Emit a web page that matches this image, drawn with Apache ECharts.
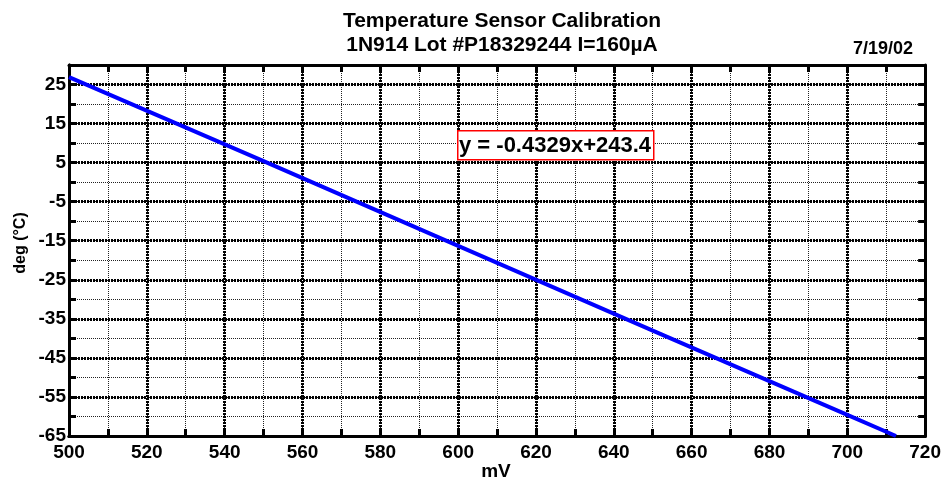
<!DOCTYPE html>
<html>
<head>
<meta charset="utf-8">
<style>
  html, body { margin: 0; padding: 0; background: #fff; }
  #chart { width: 944px; height: 483px; }
</style>
<script src="https://cdn.jsdelivr.net/npm/echarts@6/dist/echarts.min.js"></script>
</head>
<body>
<div id="chart"></div>
<script>
// ---- data ----
var mV = [500, 550, 600, 650, 700, 712.5];
var degC = [26.9, 5.4, -16.3, -38.0, -59.6, -65.0];
var xTickLabels = ['500', '520', '540', '560', '580', '600', '620', '640', '660', '680', '700', '720'];
var yTickLabels = ['-65', '-55', '-45', '-35', '-25', '-15', '-5', '5', '15', '25'];
var titleLines = ['Temperature Sensor Calibration', '1N914 Lot #P18329244 I=160\u00b5A'];
var dateText = '7/19/02';
var fitText = 'y = -0.4329x+243.4';
var xName = 'mV';
var yName = 'deg (\u00b0C)';

var FONT = 'Liberation Sans, Arial, sans-serif';
var points = mV.map(function (x, i) { return [x, degC[i]]; });

var chart = echarts.init(document.getElementById('chart'), null, { renderer: 'canvas' });

var majorLine = { show: true, lineStyle: { color: '#000', width: 3, type: [2, 1] } };
var minorLine = { show: true, lineStyle: { color: '#222', width: 1, type: [1, 1] } };
var frame = { show: true, onZero: false, lineStyle: { color: '#000', width: 3 } };
var tickLabel = { fontFamily: FONT, fontWeight: 'bold', fontSize: 19, color: '#000' };
var minorTick = { show: true, inside: true, length: 7, lineStyle: { width: 3, color: '#000' } };

chart.setOption({
  animation: false,
  backgroundColor: '#fff',
  grid: { left: 69, right: 18, top: 65, bottom: 47, containLabel: false },
  title: {
    text: titleLines.join('\n'),
    left: 497, top: 4, textAlign: 'center',
    textStyle: { fontFamily: FONT, fontWeight: 'bold', fontSize: 21, lineHeight: 24, color: '#000' }
  },
  xAxis: [
    { // major, labelled
      type: 'value', min: 500, max: 720, interval: 20, position: 'bottom', z: 1,
      axisLine: frame, axisTick: { show: false }, splitLine: majorLine,
      axisLabel: Object.assign({ margin: 7, formatter: function (v) { return xTickLabels[Math.round((v - 500) / 20)] || ''; } }, tickLabel)
    },
    { // minor grid
      type: 'value', min: 500, max: 720, interval: 10, position: 'bottom', z: 0,
      axisLine: frame, axisTick: minorTick,
      splitLine: minorLine, axisLabel: { show: false }
    },
    { // top frame ticks
      type: 'value', min: 500, max: 720, interval: 10, position: 'top', z: 1,
      axisLine: frame, axisTick: minorTick,
      splitLine: { show: false }, axisLabel: { show: false }
    }
  ],
  yAxis: [
    { // data axis, minor grid
      type: 'value', min: -65, max: 30, interval: 5, position: 'left', z: 0,
      axisLine: frame, axisTick: minorTick,
      splitLine: minorLine, axisLabel: { show: false }
    },
    { // major lines every 10 starting at -65 (offset scale: 0 => -65)
      type: 'value', min: 0, max: 95, interval: 10, position: 'left', z: 1,
      axisLine: frame, axisTick: { show: false }, splitLine: majorLine,
      axisLabel: Object.assign({ margin: 3, formatter: function (v) { return v % 10 === 0 ? (yTickLabels[v / 10] || '') : ''; } }, tickLabel)
    },
    { // right frame ticks
      type: 'value', min: -65, max: 30, interval: 5, position: 'right', z: 1,
      axisLine: frame, axisTick: minorTick,
      splitLine: { show: false }, axisLabel: { show: false }
    }
  ],
  series: [{
    type: 'line', xAxisIndex: 1, yAxisIndex: 0, z: 5,
    data: points, showSymbol: false, symbol: 'none',
    lineStyle: { color: '#0000ff', width: 4 }
  }],
  graphic: [
    {
      type: 'text', x: 913, y: 49, z: 10,
      style: { text: dateText, font: 'bold 18px ' + FONT, fill: '#000', align: 'right', verticalAlign: 'middle' }
    },
    {
      type: 'text', x: 496, y: 472, z: 10,
      style: { text: xName, font: 'bold 19px ' + FONT, fill: '#000', align: 'center', verticalAlign: 'middle' }
    },
    {
      type: 'text', x: 21, y: 243, rotation: Math.PI / 2, z: 10,
      style: { text: yName, font: 'bold 16px ' + FONT, fill: '#000', align: 'center', verticalAlign: 'middle' }
    },
    {
      type: 'rect', left: 457, top: 130, z: 10,
      shape: { width: 196, height: 29 },
      style: { fill: '#fff', stroke: '#ff0000', lineWidth: 1.5 }
    },
    {
      type: 'text', x: 459, y: 146, z: 11,
      style: { text: fitText, font: 'bold 22px ' + FONT, fill: '#000', align: 'left', verticalAlign: 'middle' }
    }
  ]
});
</script>
</body>
</html>
